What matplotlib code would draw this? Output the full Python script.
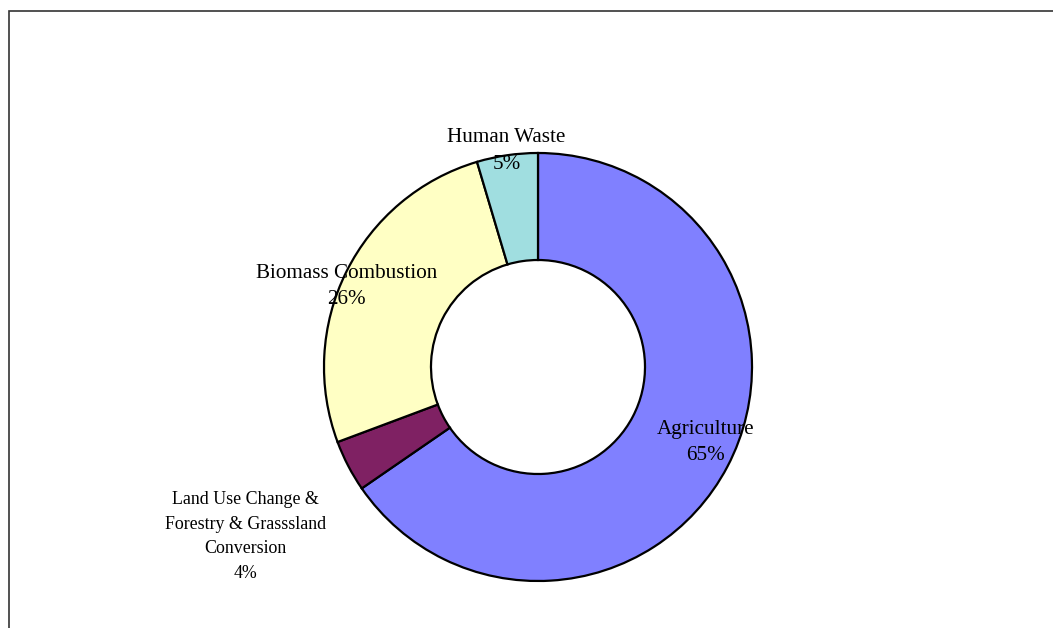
import matplotlib
matplotlib.use("Agg")
import matplotlib.pyplot as plt
from matplotlib.patches import Rectangle
import numpy as np

categories = ["Agriculture", "Land Use Change &\nForestry & Grasssland\nConversion",
              "Biomass Combustion", "Human Waste"]
values = [65.4, 3.9, 26.1, 4.6]
colors = ["#8080FF", "#7F2163", "#FFFFC4", "#A0DEE0"]

# label layout: distance from centre (in radii) and angular nudge (deg)
label_radius = [0.8605, 1.579, 0.970, 1.02]
label_nudge = [3.5, 2.56, 3.6, 0.0]
label_sizes = [15.2, 12.9, 15.2, 15.2]
label_spacing = [1.52, 1.6, 1.52, 1.52]

W, H = 1053, 628
cx, cy, R = 538, 367, 214

fig = plt.figure(figsize=(W / 100, H / 100), dpi=100)
ax = fig.add_axes([0, 0, 1, 1])
wedges, _ = ax.pie(values, colors=colors, startangle=90, counterclock=False,
                   radius=1, wedgeprops=dict(width=0.5, edgecolor="black", linewidth=1.6))
ax.set_xlim(-cx / R, (W - cx) / R)
ax.set_ylim(-(H - cy) / R, cy / R)
ax.set_aspect("equal")
ax.axis("off")

total = sum(values)
for w, cat, v, r, nd, fs, ls in zip(wedges, categories, values, label_radius,
                                     label_nudge, label_sizes, label_spacing):
    mid = np.deg2rad((w.theta1 + w.theta2) / 2 + nd)
    ax.text(r * np.cos(mid), r * np.sin(mid), f"{cat}\n{round(v / total * 100)}%",
            ha="center", va="center", fontsize=fs, family="Liberation Serif",
            color="black", linespacing=ls, zorder=5)

fig.patches.append(Rectangle((9 / W, -0.05), 1.1, 1 - 11 / H + 0.05,
                             transform=fig.transFigure, fill=False,
                             edgecolor="#333333", linewidth=1.2))

fig.savefig("out.png", dpi=100, facecolor="white")
